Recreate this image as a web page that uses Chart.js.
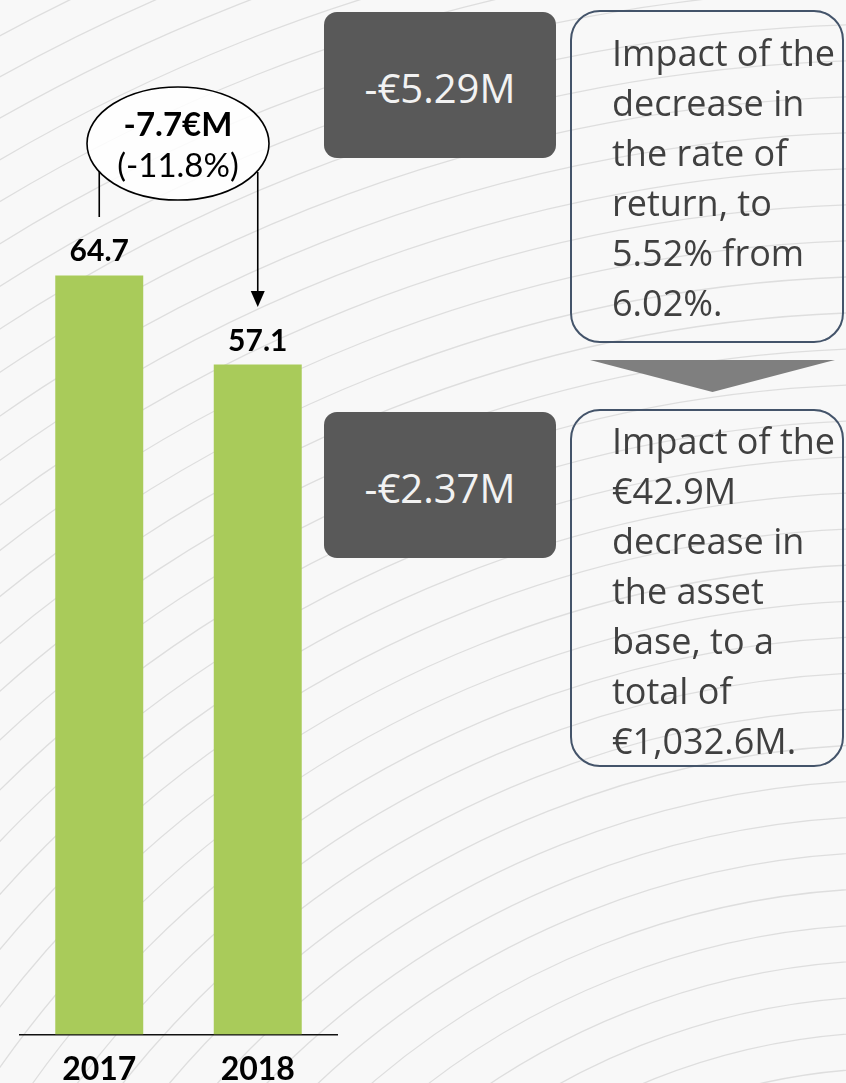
<!DOCTYPE html>
<html>
<head>
<meta charset="utf-8">
<script src="https://cdn.jsdelivr.net/npm/chart.js@4.4.0/dist/chart.umd.min.js"></script>
<style>
  html, body { margin: 0; padding: 0; width: 846px; height: 1083px; overflow: hidden; background: #f8f8f8; }
  #wrap { position: relative; width: 846px; height: 1083px; overflow: hidden; font-family: "Open Sans", sans-serif; }
  #chart { position: absolute; left: 0; top: 0; }
  .dark {
    position: absolute; left: 324px; width: 232px; height: 146px; box-sizing: border-box;
    background: #595959; border-radius: 13px; color: #f2f2f2; padding-top: 4px;
    font-size: 40px; display: flex; align-items: center; justify-content: center;
  }
  .note {
    position: absolute; left: 570px; width: 274px; box-sizing: border-box;
    border: 2px solid #44546a; border-radius: 30px;
    color: #404040; font-size: 36px; line-height: 50px;
    padding: 16px 0 0 40px; white-space: nowrap;
  }
  .tri {
    position: absolute; left: 590px; top: 360px; width: 245px; height: 32px;
    background: #7f7f7f; clip-path: polygon(0 0, 100% 0, 50% 100%);
  }
</style>
</head>
<body>
<div id="wrap">
  <canvas id="chart" width="846" height="1105"></canvas>
  <div class="dark" style="top:12px">-€5.29M</div>
  <div class="dark" style="top:412px">-€2.37M</div>
  <div class="note" style="top:10px;height:333px">Impact of the<br>decrease in<br>the rate of<br>return, to<br>5.52% from<br>6.02%.</div>
  <div class="tri"></div>
  <div class="note" style="top:409px;height:358px;padding-top:5px">Impact of the<br>€42.9M<br>decrease in<br>the asset<br>base, to a<br>total of<br>€1,032.6M.</div>
</div>

<script>
// ---- data ----
const YEARS  = ['2017', '2018'];
const VALUES = [64.7, 57.1];
const VALUE_LABELS = ['64.7', '57.1'];
const CHANGE_LABEL = ['-7.7€M', '(-11.8%)'];

const BAR_GREEN = '#a9cb5a';

// faint swirl lines in the background
const backdrop = {
  id: 'backdrop',
  beforeDraw(chart) {
    const ctx = chart.ctx;
    ctx.save();
    ctx.fillStyle = '#f8f8f8';
    ctx.fillRect(0, 0, chart.width, chart.height);
    ctx.strokeStyle = '#dedede';
    ctx.lineWidth = 1.3;
    for (let r = 560; r < 1980; r += 36) {
      ctx.beginPath();
      ctx.arc(900, 1700, r, Math.PI, Math.PI * 1.6);
      ctx.stroke();
    }
    ctx.restore();
  }
};

// value labels, change bubble and arrow
const annotate = {
  id: 'annotate',
  afterDatasetsDraw(chart) {
    const ctx = chart.ctx;
    const meta = chart.getDatasetMeta(0);
    const x0 = meta.data[0].x, x1 = meta.data[1].x;
    ctx.save();
    ctx.fillStyle = '#000';
    ctx.textAlign = 'center';
    ctx.textBaseline = 'alphabetic';
    ctx.font = 'bold 30px Lato';
    meta.data.forEach((bar, i) => {
      ctx.fillText(VALUE_LABELS[i], bar.x, bar.y - 14);
    });

    // bubble
    const cx = (x0 + x1) / 2 - 0.5, cy = 143.5;
    ctx.beginPath();
    ctx.ellipse(cx, cy, 91, 56.5, 0, 0, Math.PI * 2);
    ctx.fillStyle = 'rgba(255,255,255,0.85)';
    ctx.fill();
    ctx.lineWidth = 1.6;
    ctx.strokeStyle = '#000';
    ctx.stroke();

    // left leg
    ctx.beginPath();
    ctx.moveTo(x0, 171);
    ctx.lineTo(x0, 217);
    ctx.stroke();
    // right leg with arrow
    ctx.beginPath();
    ctx.moveTo(x1, 172);
    ctx.lineTo(x1, 294);
    ctx.stroke();
    ctx.beginPath();
    ctx.moveTo(x1 - 7, 291);
    ctx.lineTo(x1 + 7, 291);
    ctx.lineTo(x1, 307);
    ctx.closePath();
    ctx.fillStyle = '#000';
    ctx.fill();

    ctx.font = 'bold 33px Lato';
    ctx.fillText(CHANGE_LABEL[0], cx, 136);
    ctx.font = '33px Lato';
    ctx.fillText(CHANGE_LABEL[1], cx, 177);
    ctx.restore();
  }
};

new Chart(document.getElementById('chart'), {
  type: 'bar',
  data: {
    labels: YEARS,
    datasets: [{
      data: VALUES,
      backgroundColor: BAR_GREEN,
      borderWidth: 0,
      barPercentage: 0.555,
      categoryPercentage: 1
    }]
  },
  options: {
    responsive: false,
    animation: false,
    layout: { padding: { left: 20, right: 509, top: 2, bottom: 0 } },
    plugins: { legend: { display: false }, tooltip: { enabled: false } },
    scales: {
      x: {
        grid: { display: false, drawTicks: false },
        border: { display: true, color: '#111', width: 1.5 },
        ticks: { color: '#000', padding: 16, font: { family: 'Lato', size: 32, weight: 'bold' } }
      },
      y: { display: false, min: 0, max: 88 }
    }
  },
  plugins: [backdrop, annotate]
});
</script>
</body>
</html>
